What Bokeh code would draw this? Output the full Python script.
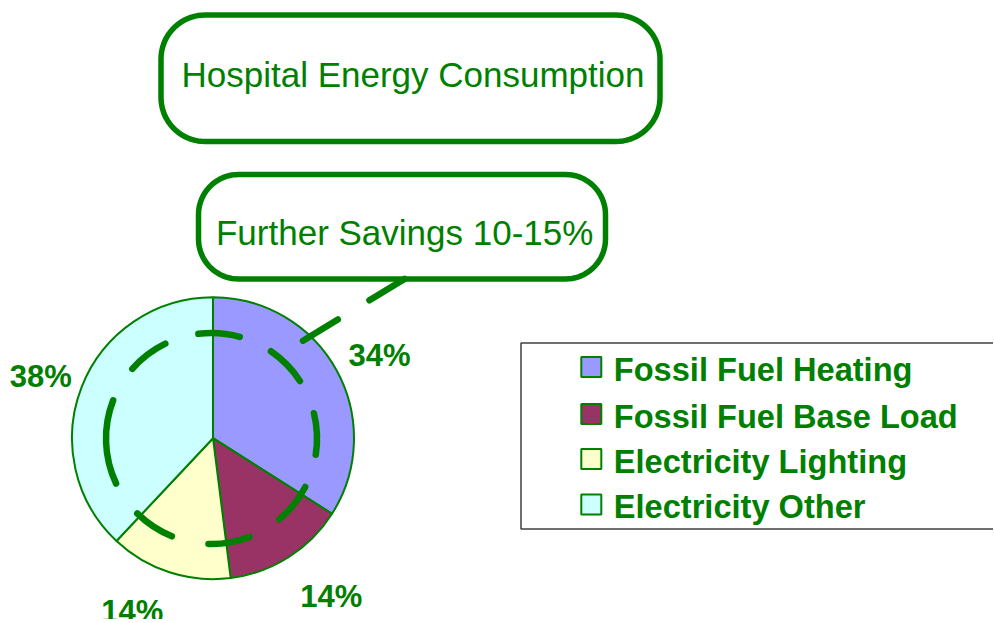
import numpy as np
from bokeh.plotting import figure
from bokeh.models import Range1d
from bokeh.embed import file_html
from bokeh.resources import INLINE
from bokeh.core.properties import value

# ---------------- data ----------------
categories = ["Fossil Fuel Heating", "Fossil Fuel Base Load",
              "Electricity Lighting", "Electricity Other"]
shares = [34, 14, 14, 38]
slice_colors = ["#9999FF", "#993366", "#FFFFCC", "#CCFFFF"]
title_text = "Hospital Energy Consumption"
callout_text = "Further Savings 10-15%"

# ---------------- layout ----------------
GREEN = "#008000"
FONT = "Liberation Sans"
W, H = 993, 619
IMG_H = 623


def Y(y):
    """image-style (y down) -> data (y up)"""
    return IMG_H - np.asarray(y, dtype=float)


p = figure(width=W, height=H, output_backend="svg", toolbar_location=None,
           x_range=Range1d(0, W), y_range=Range1d(IMG_H - H, IMG_H),
           x_axis_location=None, y_axis_location=None, min_border=0)
p.grid.visible = False
p.outline_line_color = None
p.background_fill_color = "white"
p.border_fill_color = "white"


def rounded_rect(x0, y0, x1, y1, r, n=20):
    xs, ys = [], []
    corners = [(x1 - r, y0 + r, -90, 0), (x1 - r, y1 - r, 0, 90),
               (x0 + r, y1 - r, 90, 180), (x0 + r, y0 + r, 180, 270)]
    for cx, cy, a0, a1 in corners:
        t = np.radians(np.linspace(a0, a1, n))
        xs.extend(cx + r * np.cos(t))
        ys.extend(cy + r * np.sin(t))
    return xs, list(Y(ys))


# title box
bx, by = rounded_rect(160.5, 14.5, 659.5, 141, 44)
p.patch(bx, by, fill_color="white", line_color=GREEN, line_width=5.5)
p.text(x=[412.5], y=list(Y([73.5])), text=[title_text],
       text_font=value(FONT), text_font_size=value("35px"), text_color=GREEN,
       text_align="center", text_baseline="middle")

# callout box
bx, by = rounded_rect(198, 174, 605, 278.5, 40)
p.patch(bx, by, fill_color="white", line_color=GREEN, line_width=5.5)
p.text(x=[404.2], y=list(Y([231.5])), text=[callout_text],
       text_font=value(FONT), text_font_size=value("35px"), text_color=GREEN,
       text_align="center", text_baseline="middle")

# ---------------- pie ----------------
cx, cy, R = 212.5, 437.7, 141
cum = np.concatenate([[0], np.cumsum(shares)]) / float(sum(shares))
start = np.radians(90 - 360 * cum[:-1])
end = np.radians(90 - 360 * cum[1:])
p.wedge(x=cx, y=float(Y(cy)), radius=R, start_angle=start, end_angle=end,
        direction="clock", fill_color=slice_colors, line_color=GREEN, line_width=2)

# percentage labels (outside end)
mid = 90 - 360 * (cum[:-1] + cum[1:]) / 2
lab_r = [186, 198, 191, 183]
lab_da = [-2.3, 4.3, -7.0, 1.9]
la = np.radians(mid + np.array(lab_da))
lx = cx + np.array(lab_r) * np.cos(la)
ly = Y(cy) + np.array(lab_r) * np.sin(la)
p.text(x=list(lx), y=list(ly), text=["%d%%" % s for s in shares],
       text_font=value(FONT), text_font_style="bold", text_font_size=value("31px"),
       text_color=GREEN, text_align="center", text_baseline="middle")

# dashed savings ring
dash_c = np.array([2.5, 44.4, 85.8, 127.3, 182.0, 236.6, 279.7, 321.3])
dash_w = np.array([22.7, 22.7, 22.7, 22.7, 46.5, 22.7, 22.7, 22.7])
p.arc(x=211, y=float(Y(438)), radius=105.5,
      start_angle=np.radians(dash_c - dash_w / 2), end_angle=np.radians(dash_c + dash_w / 2),
      direction="anticlock", line_color=GREEN, line_width=6.5, line_cap="round")

# callout tail (dashed)
p.line(x=[404.0, 302.5], y=list(Y([278.5, 340.2])), line_color=GREEN, line_width=6.5,
       line_dash="41 37", line_cap="round")

# ---------------- legend ----------------
p.quad(left=520.5, right=1010, top=float(Y(342.5)), bottom=float(Y(528.5)),
       fill_color=None, line_color="#404040", line_width=1.5)
leg_y = np.array([366.5, 413.5, 458.5, 504.0])
p.rect(x=590.8, y=list(Y(leg_y)), width=20, height=20,
       fill_color=slice_colors, line_color=GREEN, line_width=2)
p.text(x=613.3, y=list(Y(leg_y + 2)), text=categories,
       text_font=value(FONT), text_font_style="bold", text_font_size=value("32.6px"),
       text_color=GREEN, text_align="left", text_baseline="middle")

open("out.html", "w").write(file_html(p, INLINE))
